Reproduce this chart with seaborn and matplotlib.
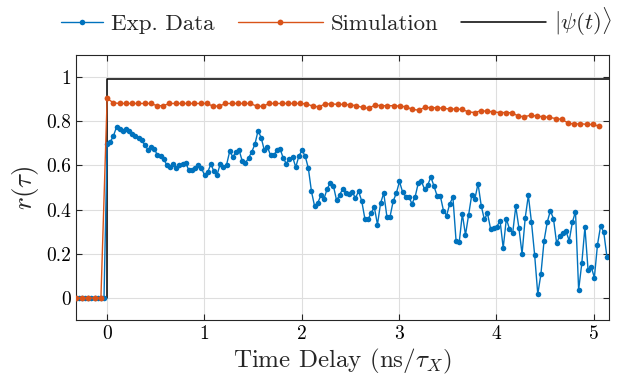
import numpy as np
import pandas as pd
import seaborn as sns
import matplotlib.pyplot as plt
from matplotlib.ticker import FuncFormatter
from matplotlib.legend_handler import HandlerLine2D

# Exp. Data r(tau), one sample every dt_exp starting at t = 0
exp_r = [0.695, 0.706, 0.733, 0.774, 0.764, 0.756, 0.764, 0.755, 0.744, 0.732,
         0.724, 0.714, 0.691, 0.671, 0.683, 0.676, 0.645, 0.642, 0.630, 0.600,
         0.592, 0.608, 0.590, 0.600, 0.608, 0.612, 0.577, 0.577, 0.588, 0.600,
         0.588, 0.555, 0.570,
         0.605, 0.573, 0.558, 0.608, 0.592, 0.603, 0.664, 0.638, 0.661, 0.668,
         0.618, 0.612, 0.633, 0.661, 0.695, 0.756, 0.726, 0.668, 0.683, 0.645,
         0.645, 0.668, 0.676, 0.633, 0.608, 0.630, 0.638, 0.592, 0.642, 0.668,
         0.642, 0.588, 0.482, 0.415, 0.430, 0.464, 0.449, 0.494,
         0.520, 0.506, 0.441, 0.468, 0.494, 0.474, 0.471, 0.479, 0.452, 0.483,
         0.438, 0.358, 0.355, 0.385, 0.411, 0.332, 0.430, 0.474, 0.368, 0.368,
         0.438, 0.474, 0.527, 0.479, 0.459, 0.456, 0.426, 0.459, 0.521, 0.527,
         0.491, 0.512, 0.547, 0.505, 0.461, 0.461, 0.395, 0.373, 0.426,
         0.456, 0.259, 0.251, 0.380, 0.285, 0.377, 0.467, 0.449, 0.517, 0.418,
         0.355, 0.383, 0.312, 0.317, 0.323, 0.350, 0.226, 0.358, 0.312, 0.292,
         0.414, 0.317, 0.199, 0.362, 0.464, 0.342, 0.195, 0.017, 0.108, 0.259,
         0.342, 0.395, 0.358, 0.247, 0.282, 0.292, 0.301, 0.259, 0.342, 0.391,
         0.036, 0.156, 0.320, 0.126, 0.141, 0.092, 0.241, 0.327, 0.297, 0.186]
exp_pre = [0.0, 0.0, 0.0, 0.0, 0.0, 0.0, 0.0, 0.0, 0.0, 0.0]
dt_exp = 0.0323

# Simulation r(tau), one sample every dt_sim starting at t = 0
sim_r = [0.903, 0.883, 0.880, 0.880, 0.880, 0.880, 0.880, 0.880, 0.870, 0.870,
         0.880, 0.880, 0.880, 0.880, 0.880, 0.880, 0.880, 0.868, 0.868, 0.880,
         0.880, 0.880, 0.880, 0.880, 0.868, 0.867, 0.880, 0.880, 0.880, 0.880,
         0.880, 0.880, 0.878, 0.868, 0.865, 0.878, 0.878, 0.876, 0.876, 0.874,
         0.870, 0.862, 0.858, 0.873, 0.870, 0.870, 0.870, 0.868, 0.865, 0.853,
         0.850, 0.862, 0.861, 0.861, 0.858, 0.855, 0.855, 0.853, 0.842, 0.839,
         0.847, 0.845, 0.842, 0.839, 0.839, 0.838, 0.823, 0.820, 0.827, 0.823,
         0.820, 0.817, 0.812, 0.808, 0.792, 0.786, 0.789, 0.785, 0.785, 0.777]
sim_pre = [0.0, 0.0, 0.0, 0.0, 0.0]
dt_sim = 0.064

# ideal state |psi(t)>
psi_t = [-0.5, 0.0, 0.0, 5.5]
psi_r = [0.0, 0.0, 0.99, 0.99]

df_exp = pd.DataFrame({"t": dt_exp * np.arange(-len(exp_pre), len(exp_r)),
                       "r": exp_pre + exp_r})
df_sim = pd.DataFrame({"t": dt_sim * np.arange(-len(sim_pre), len(sim_r)),
                       "r": sim_pre + sim_r})
df_psi = pd.DataFrame({"t": psi_t, "r": psi_r})


class HalfLine(HandlerLine2D):
    # legend line starting at the marker (as in the original figure)
    def get_xdata(self, legend, xdescent, ydescent, width, height, fontsize):
        mid = -xdescent + 0.5 * width
        return np.array([mid, -xdescent + width]), np.array([mid])


sns.set_style("ticks")
plt.rcParams["font.family"] = ["cmr10", "DejaVu Serif"]
plt.rcParams["mathtext.fontset"] = "cm"
plt.rcParams["axes.formatter.use_mathtext"] = True

fig = plt.figure(figsize=(6.23, 3.81), dpi=100)
ax = fig.add_axes([0.122, 0.16, 0.856, 0.696])

sns.lineplot(data=df_psi, x="t", y="r", ax=ax, color="black", lw=1.1,
             estimator=None, sort=False, label=r"$|\psi(t)\rangle$", zorder=1)
sns.lineplot(data=df_exp, x="t", y="r", ax=ax, color="#0072BD", lw=1.0,
             estimator=None, sort=False, marker="o", markersize=4,
             markeredgewidth=0, label="Exp. Data", zorder=2)
sns.lineplot(data=df_sim, x="t", y="r", ax=ax, color="#D95319", lw=1.0,
             estimator=None, sort=False, marker="o", markersize=4.2,
             markeredgewidth=0, label="Simulation", zorder=3)

ax.set_xlim(-0.32, 5.16)
ax.set_ylim(-0.1, 1.1)
ax.set_xticks([0, 1, 2, 3, 4, 5])
ax.set_yticks([0, 0.2, 0.4, 0.6, 0.8, 1])
ax.yaxis.set_major_formatter(FuncFormatter(lambda v, p: "%g" % v))
ax.grid(True, color="#dedede", lw=0.8)
ax.tick_params(direction="in", top=True, right=True, length=4, width=0.8,
               labelsize=14, colors="#262626", labelcolor="black")
for s in ax.spines.values():
    s.set_color("#262626")
    s.set_linewidth(0.8)

ax.set_xlabel(r"Time Delay (ns/$\tau_X$)", fontsize=18, labelpad=3)
ax.set_ylabel(r"$r(\tau)$", fontsize=19.5, labelpad=4)

h, l = ax.get_legend_handles_labels()
order = [1, 2, 0]
ax.legend_.remove()
fig.legend([h[i] for i in order], [l[i] for i in order], loc="center",
           bbox_to_anchor=(0.506, 0.942), ncol=3, frameon=False, fontsize=16.5,
           handlelength=3.7, columnspacing=1.0, handletextpad=0.35,
           handler_map={h[1]: HalfLine()})

fig.savefig("out.png", dpi=100)
